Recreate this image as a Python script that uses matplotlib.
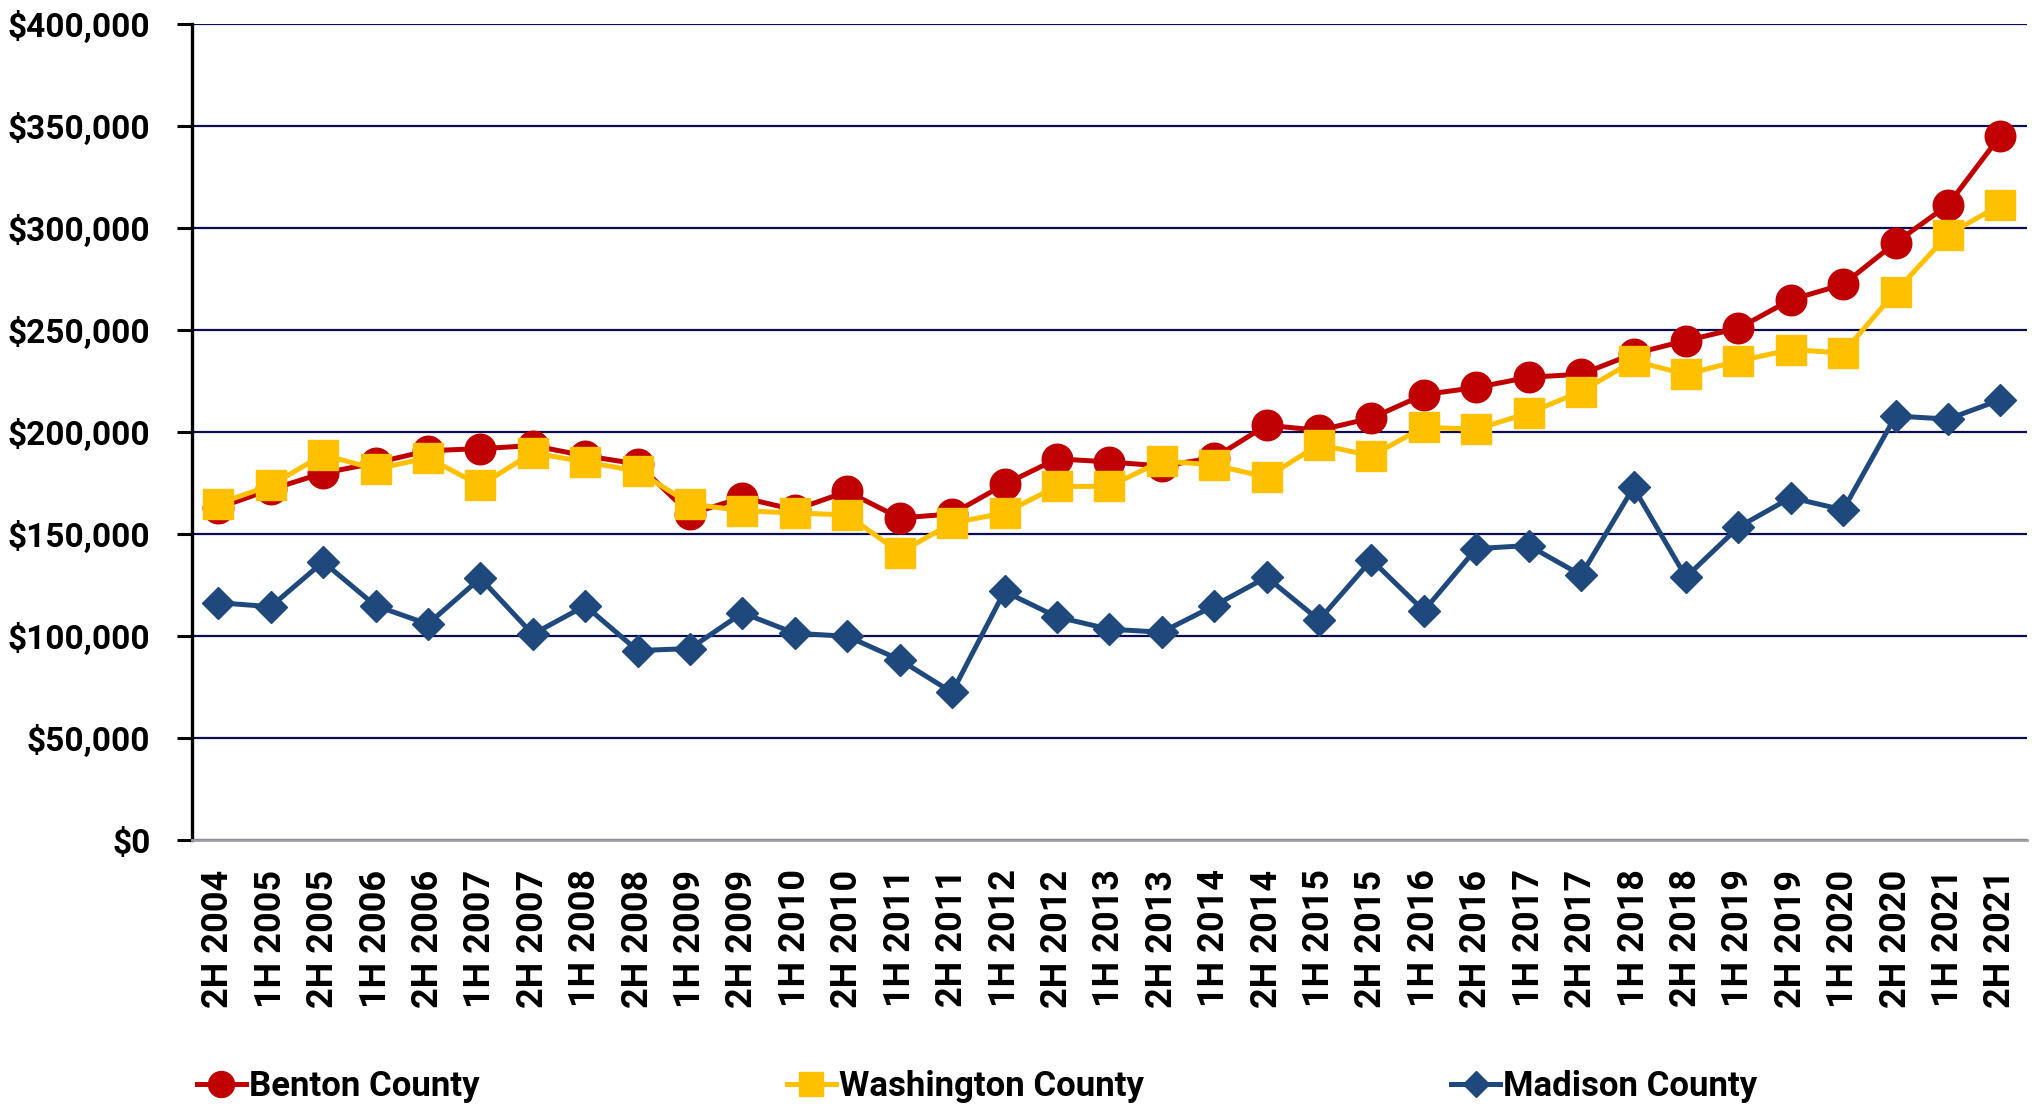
import matplotlib.pyplot as plt
from matplotlib.ticker import FuncFormatter

# period labels, 2H 2004 .. 2H 2021
periods = ["2H 2004", "1H 2005", "2H 2005", "1H 2006", "2H 2006", "1H 2007",
           "2H 2007", "1H 2008", "2H 2008", "1H 2009", "2H 2009", "1H 2010",
           "2H 2010", "1H 2011", "2H 2011", "1H 2012", "2H 2012", "1H 2013",
           "2H 2013", "1H 2014", "2H 2014", "1H 2015", "2H 2015", "1H 2016",
           "2H 2016", "1H 2017", "2H 2017", "1H 2018", "2H 2018", "1H 2019",
           "2H 2019", "1H 2020", "2H 2020", "1H 2021", "2H 2021"]

benton = [163000, 172000, 180000, 185000, 191000, 192000, 193500, 188500, 184500,
          160000, 168000, 162000, 171000, 158000, 160000, 174500, 187000, 185500,
          183500, 187500, 203500, 201000, 207000, 218500, 222000, 227000, 228500,
          238500, 245000, 251000, 265000, 272500, 293000, 311500, 345500]

washington = [165000, 174000, 189000, 182000, 187500, 174000, 190000, 185500, 181000,
              165000, 161500, 160500, 159500, 141000, 155500, 160500, 173500, 173500,
              186000, 184000, 178000, 194000, 188500, 202500, 201500, 209500, 220000,
              235000, 228500, 235000, 240500, 239000, 269000, 297000, 311500]

madison = [116500, 114500, 136500, 115000, 106000, 128500, 101000, 115000, 93000,
           94000, 111500, 101500, 100000, 88500, 72500, 122000, 109500, 103500,
           102000, 115000, 129000, 108000, 137500, 112500, 143000, 144500, 130000,
           173000, 129000, 153500, 168000, 162000, 208000, 206500, 216000]

RED = "#C00000"
YELLOW = "#FFC000"
BLUE = "#1F497D"

plt.rcParams["font.family"] = ["Roboto", "DejaVu Sans"]

fig = plt.figure(figsize=(20.43, 11.10), dpi=100)
ax = fig.add_axes([0.094, 0.243, 0.898, 0.735])

x = list(range(len(periods)))
ax.plot(x, benton, color=RED, lw=3.6, marker="o", ms=22, label="Benton County", zorder=3)
ax.plot(x, washington, color=YELLOW, lw=3.6, marker="s", ms=21, label="Washington County", zorder=4)
ax.plot(x, madison, color=BLUE, lw=3.6, marker="D", ms=16, label="Madison County", zorder=5)

ax.set_xlim(-0.5, len(periods) - 0.5)
ax.set_ylim(0, 400000)
ax.set_yticks(range(0, 400001, 50000))
ax.yaxis.set_major_formatter(FuncFormatter(lambda v, p: "${:,.0f}".format(v)))
ax.grid(axis="y", color="#0C0C50", lw=1.6)
ax.set_axisbelow(True)

ax.set_xticks(x)
ax.set_xticklabels(periods, rotation=90, fontsize=26, fontweight="bold")
ax.tick_params(axis="x", length=0, pad=21)
ax.tick_params(axis="y", length=11, width=2.2, pad=19, labelsize=24)
for lbl in ax.get_yticklabels():
    lbl.set_fontweight("bold")

for side in ["top", "right"]:
    ax.spines[side].set_visible(False)
ax.spines["left"].set_linewidth(2.4)
ax.spines["bottom"].set_color("#A0A0A0")
ax.spines["bottom"].set_linewidth(2)

fig.legend(loc="center left", bbox_to_anchor=(0.0964, 0.021), ncol=3, frameon=False,
           prop={"weight": "bold", "size": 25},
           handlelength=1.4, handletextpad=0.1, columnspacing=8.85,
           borderaxespad=0, borderpad=0, markerscale=0.85)

plt.savefig("out.png", dpi=100)
